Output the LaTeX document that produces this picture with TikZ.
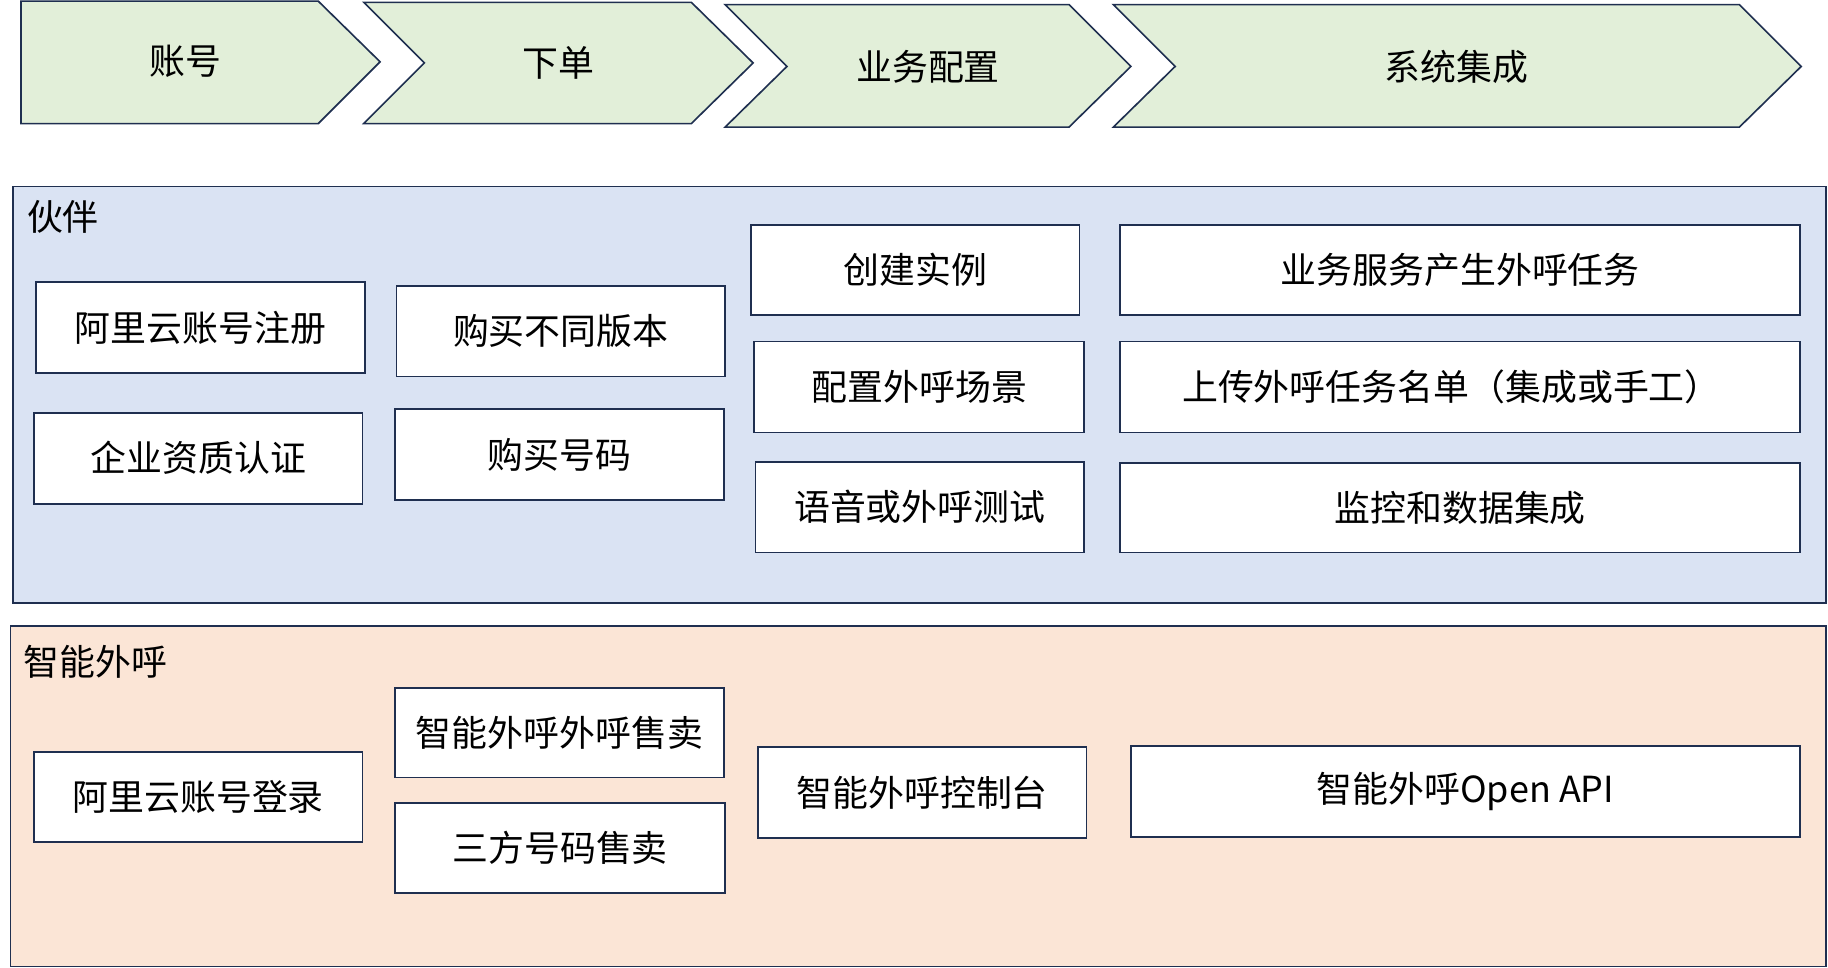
\documentclass[tikz,border=0pt]{standalone}
\usepackage{fontspec}
\setmainfont{Noto Sans CJK SC}
\definecolor{navy}{HTML}{1F2F50}
\definecolor{chevfill}{HTML}{E2EFD9}
\definecolor{bluefill}{HTML}{DAE3F3}
\definecolor{peachfill}{HTML}{FBE5D6}
\tikzset{
  chev/.style={draw=navy, fill=chevfill, line width=1.4pt, line join=miter},
  panel/.style={draw=navy, line width=1.5pt},
  box/.style={draw=navy, fill=white, line width=1.5pt},
  txt/.style={font=\fontsize{30.8}{35}\selectfont, inner sep=0pt, text=black},
}
\begin{document}
\begin{tikzpicture}[x=1pt,y=-1pt]
\useasboundingbox (0,0) rectangle (1568,830);
% chevrons
\draw[chev] (18,1) -- (273,1) -- (326,53) -- (273,106) -- (18,106) -- cycle;
\draw[chev] (312,2) -- (593,2) -- (646,54) -- (593,106) -- (312,106) -- (364,54) -- cycle;
\draw[chev] (622,4) -- (917,4) -- (970,57) -- (917,109) -- (622,109) -- (675,57) -- cycle;
\draw[chev] (955,4) -- (1492,4) -- (1545,57) -- (1492,109) -- (955,109) -- (1008,57) -- cycle;
\node[txt] (h1) at (159,53) {账号};
\node[txt] (h2) at (479,54) {下单};
\node[txt] (h3) at (796,57) {业务配置};
\node[txt] (h4) at (1249,57) {系统集成};
% panels
\draw[panel, fill=bluefill] (11,160) rectangle (1566,517);
\node[txt, anchor=west] (p1) at (23,186) {伙伴};
\draw[panel, fill=peachfill] (9,537) rectangle (1566,829);
\node[txt, anchor=west] (p2) at (20,568) {智能外呼};
% partner boxes
\draw[box] (31,242) rectangle (313,320);  \node[txt] (b1) at (172,281) {阿里云账号注册};
\draw[box] (29,354) rectangle (311,432);  \node[txt] (b2) at (170,393) {企业资质认证};
\draw[box] (340,245) rectangle (622,323); \node[txt] (b3) at (481,284) {购买不同版本};
\draw[box] (339,351) rectangle (621,429); \node[txt] (b4) at (480,390) {购买号码};
\draw[box] (644,193) rectangle (926,270); \node[txt] (b5) at (785,231.5) {创建实例};
\draw[box] (647,293) rectangle (930,371); \node[txt] (b6) at (788.5,332) {配置外呼场景};
\draw[box] (648,396) rectangle (930,474); \node[txt] (b7) at (789,435) {语音或外呼测试};
\draw[box] (961,193) rectangle (1544,270); \node[txt] (b8) at (1252.5,231.5) {业务服务产生外呼任务};
\draw[box] (961,293) rectangle (1544,371); \node[txt] (b9) at (1245,332) {上传外呼任务名单（集成或手工）};
\draw[box] (961,397) rectangle (1544,474); \node[txt] (b10) at (1252.5,435.5) {监控和数据集成};
% outbound boxes
\draw[box] (29,645) rectangle (311,722);  \node[txt] (c1) at (170,683.5) {阿里云账号登录};
\draw[box] (339,590) rectangle (621,667); \node[txt] (c2) at (480,628.5) {智能外呼外呼售卖};
\draw[box] (339,689) rectangle (622,766); \node[txt] (c3) at (480.5,727.5) {三方号码售卖};
\draw[box] (650,641) rectangle (932,719); \node[txt] (c4) at (791,680) {智能外呼控制台};
\draw[box] (970,640) rectangle (1544,718); \node[txt] (c5) at (1257,679) {智能外呼Open API};
\end{tikzpicture}
\end{document}
